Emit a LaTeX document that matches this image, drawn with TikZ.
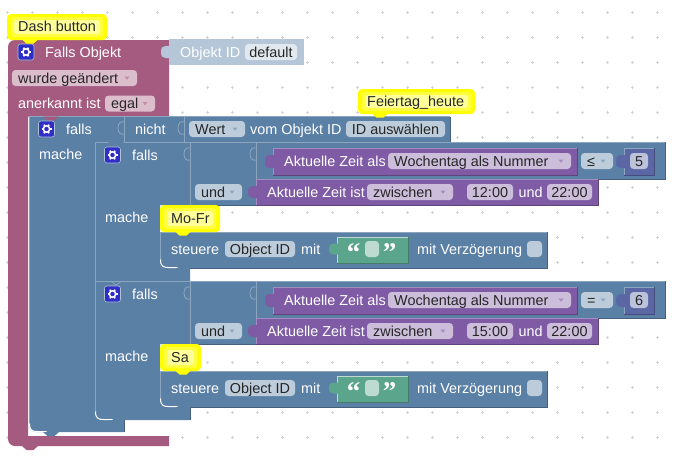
\documentclass[tikz,border=0pt]{standalone}
\usepackage{fontspec}
\setmainfont{Liberation Sans}
\newfontfamily\quotefont{Liberation Serif}
\definecolor{pinkb}{HTML}{A55B80}
\definecolor{blueb}{HTML}{5B80A5}
\definecolor{purpb}{HTML}{7F5BA5}
\definecolor{greenb}{HTML}{5BA58C}
\definecolor{numb}{HTML}{5B67A5}
\definecolor{paleb}{HTML}{B4C6D8}
\definecolor{pinkf}{HTML}{DBBDCC}
\definecolor{bluef}{HTML}{BDCCDB}
\definecolor{purpf}{HTML}{CCBDDB}
\definecolor{numf}{HTML}{BDC2DB}
\definecolor{greenf}{HTML}{BDDBD1}
\definecolor{hlb}{HTML}{8CA6C0}
\definecolor{hlp}{HTML}{A58CC0}
\definecolor{gridc}{HTML}{D4D4D4}
\definecolor{combo}{HTML}{FFFF00}
\definecolor{commid}{HTML}{FFFF40}
\definecolor{comin}{HTML}{FFFF99}
\definecolor{gearb}{HTML}{2F2FC8}
\newcommand{\fsz}{\fontsize{14.4}{16}\selectfont}
\tikzset{
  white text/.style={text=white,font=\fsz,inner sep=0pt,anchor=west,text height=12pt,text depth=1.5pt},
  dark text/.style={text=black!85,font=\fsz,inner sep=0pt,text height=12pt,text depth=1.5pt},
  edge/.style={draw=#1,line width=.7pt},
  fieldbox/.style={rounded corners=3.5pt,fill=#1},
  comout/.style={fill=combo,rounded corners=4pt},
  commid/.style={fill=commid,rounded corners=3pt},
  comin/.style={fill=comin,rounded corners=3pt},
  gridmark/.style={draw=gridc,line width=.5pt},
  tabline/.style={draw=#1,line width=.8pt,fill=none},
  quotemark/.style={text=white,inner sep=0pt,anchor=north,font=\quotefont\bfseries\fontsize{27}{27}\selectfont},
}
\newcommand{\rblock}[6]{%
  \fill[#5] (#1,#2) rectangle (#3,#4);
  \draw[edge=#6] (#1,#4) -- (#1,#2) -- (#3,#2);
  \draw[edge=#5!75!black] (#1,#4) -- (#3,#4) -- (#3,#2);
}
% puzzle tab: x of block edge, top y, height, colour
\newcommand{\ptab}[4]{%
  \fill[#4] (#1+1,#2) -- (#1-3,#2) .. controls (#1-6,#2) and (#1-8,#2+1) .. (#1-8,#2+#3/2)
     .. controls (#1-8,#2+#3-1) and (#1-6,#2+#3) .. (#1-3,#2+#3) -- (#1+1,#2+#3) -- cycle;
}
\newcommand{\psock}[3]{%
  \draw[tabline=#3] (#1,#2) .. controls (#1-3,#2-1) and (#1-6,#2+1) .. (#1-6,#2+6)
     .. controls (#1-6,#2+11) and (#1-3,#2+13) .. (#1,#2+12);
}
\newcommand{\pbump}[3]{%
  \fill[#3] (#1-8,#2) -- (#1-3.5,#2+4) -- (#1+3.5,#2+4) -- (#1+8,#2) -- cycle;
}
\newcommand{\fld}[7]{%
  \node[fieldbox=#6,minimum width=#3pt-#2pt,minimum height=16pt,dark text] (#1) at ({(#2+#3)/2},#4) {#7};
}
\newcommand{\ddn}[8]{%
  \path[fieldbox=#6] (#2,#4-8) rectangle (#3,#4+8);
  \node[dark text,anchor=west] (#1) at (#2+6,#4) {#7};
  \fill[#8] (#3-12.5,#4-1.5) -- (#3-7.5,#4-1.5) -- (#3-10,#4+1.8) -- cycle;
}
\newcommand{\gearic}[2]{%
  \fill[gearb,draw=hlb!70!white,line width=.6pt,rounded corners=2.5pt] (#1,#2) rectangle ++(16,16);
  \begin{scope}[shift={(#1+8,#2+8)}]
    \foreach \a in {0,60,...,300}{\draw[white,line width=1.7pt] (\a:2.5) -- (\a:5);}
    \draw[white,line width=1.5pt] (0,0) circle (3.2);
  \end{scope}
}
\newcommand{\ccorner}[2]{%
  \draw[white,line width=1pt] (#1,#2-8) .. controls (#1,#2-1) and (#1+3,#2) .. (#1+8,#2) -- (#1+17,#2);
}
% comment balloon: left, top, right, bottom
\newcommand{\cballoon}[5]{%
  \path[comout] (#1,#2) rectangle (#3,#4);
  \path[commid] (#1+4,#2+3) rectangle (#3-4,#4-3);
  \path[comin] (#1+7,#2+6) rectangle (#3-7,#4-6);
  \pbump{#5}{#4-.5}{combo}
}
\begin{document}
\begin{tikzpicture}[x=1pt,y=-1pt]
\fill[white] (0,0) rectangle (678,461);
\useasboundingbox (0,0) rectangle (678,461);
% grid
\foreach \i in {0,...,26}{\foreach \j in {0,...,17}{
  \pgfmathsetmacro{\gx}{7.3+25*\i}\pgfmathsetmacro{\gy}{12.5+25*\j}
  \draw[gridmark] (\gx-1.5,\gy) -- (\gx+1.5,\gy) (\gx,\gy-1.5) -- (\gx,\gy+1.5);
}}
% pink trigger block
\fill[pinkb] (169,40) -- (169,116.5) -- (28,116.5) -- (28,436) -- (169,436) -- (169,446) [rounded corners=7pt] -- (8,446) -- (8,40) [sharp corners] -- cycle;
\pbump{30}{446}{pinkb}
% Objekt ID block
\fill[paleb] (169,39) rectangle (304,64.5);
\ptab{169}{46}{12}{paleb}
\node[white text] (objid) at (180,52) {Objekt ID};
\fld{deflt}{245}{297}{52}{}{bluef!45!white}{default}
\gearic{18}{44}
\node[white text] (fallsobj) at (45,52) {Falls Objekt};
\ddn{geaend}{12}{137}{78}{}{pinkf}{wurde geändert}{pinkb!70!white}
\node[white text] (anerk) at (18,103) {anerkannt ist};
\ddn{egal}{105}{155}{103.5}{}{pinkf}{egal}{pinkb!70!white}
% outer falls
\fill[blueb] (29,116.5) -- (124,116.5) -- (124,142) -- (95,142) -- (95,420) -- (124,420) -- (124,432) [rounded corners=7pt] -- (29,432) [sharp corners] -- (29,116.5) -- cycle;
\draw[edge=hlb] (29,424) -- (29,116.5) -- (124,116.5);
\ccorner{29.5}{431.5}
\pbump{51}{432}{blueb}
\pbump{51}{116.5}{pinkb}
% nicht and Wert blocks
\rblock{124}{116.5}{184}{142}{blueb}{hlb}
\rblock{184}{116.5}{450}{142}{blueb}{hlb}
\psock{124}{122}{hlb}
\psock{184}{122}{hlb}
\gearic{38.5}{121}
\node[white text] (f0) at (66,129) {falls};
\node[white text] (nicht) at (135,129) {nicht};
\ddn{wert}{189}{245}{129}{}{bluef}{Wert}{blueb!70!white}
\node[white text] (vom) at (250,129) {vom Objekt ID};
\fld{idausw}{346}{445}{129}{}{bluef}{ID auswählen}
\node[white text] (mache0) at (39,154) {mache};

% first inner falls
\fill[blueb] (95,142) -- (190,142) -- (190,205) -- (160,205) -- (160,268) -- (190,268) -- (190,281) -- (95,281) -- cycle;
\draw[edge=hlb] (95,281) -- (95,142) -- (190,142);
\pbump{116}{142}{blueb}
% second inner falls
\fill[blueb] (95,281) -- (190,281) -- (190,344) -- (160,344) -- (160,407) -- (190,407) -- (190,420) -- (95,420) -- cycle;
\draw[edge=hlb] (95,412) -- (95,281) -- (190,281);
\ccorner{95.5}{419.5}
\pbump{116}{420}{blueb}
\draw[edge=hlb] (111,281) -- (116,285) -- (122,281);
\draw[edge=blueb!75!black] (124,432) -- (124,420);
\draw[edge=blueb!75!black] (190,420) -- (190,407);

\foreach \dy/\tnam/\op/\num/\tfrom/\cm/\cmw in {0/a/{≤}/5/{12:00}/{Mo-Fr}/220,139/b/{=}/6/{15:00}/{Sa}/201}{
  \rblock{190}{142+\dy}{256}{205+\dy}{blueb}{hlb}
  \psock{190}{148+\dy}{hlb}
  \psock{256}{148+\dy}{hlb}
  \rblock{256}{142+\dy}{665}{179+\dy}{blueb}{hlb}
  \rblock{273}{148+\dy}{577}{175+\dy}{purpb}{hlp}
  \ptab{273}{155+\dy}{13}{purpb}
  \node[white text] (zeitals\tnam) at (284,161+\dy) {Aktuelle Zeit als};
  \ddn{wt\tnam}{388}{571}{161+\dy}{}{purpf}{Wochentag als Nummer}{purpb!70!white}
  \ddn{op\tnam}{581}{613}{161+\dy}{}{bluef}{\op}{blueb!70!white}
  \rblock{624}{148+\dy}{654}{175+\dy}{numb}{hlb}
  \ptab{624}{155+\dy}{13}{numb}
  \fld{num\tnam}{630}{648}{161+\dy}{}{numf}{\num}
  \rblock{256}{179+\dy}{598}{205+\dy}{purpb}{hlp}
  \ptab{256}{186+\dy}{12}{purpb}
  \ddn{und\tnam}{195}{242}{192+\dy}{}{bluef}{und}{blueb!70!white}
  \node[white text] (zeitist\tnam) at (267,192+\dy) {Aktuelle Zeit ist};
  \ddn{zw\tnam}{367}{453}{192+\dy}{}{purpf}{zwischen}{purpb!70!white}
  \fld{von\tnam}{467}{513}{192+\dy}{}{purpf}{\tfrom}
  \node[white text] (u\tnam) at (518.5,192+\dy) {und};
  \fld{bis\tnam}{547}{592}{192+\dy}{}{purpf}{22:00}
  \gearic{104.5}{147+\dy}
  \node[white text] (f\tnam) at (132,155+\dy) {falls};
  \node[white text] (mache\tnam) at (105,217+\dy) {mache};
  % steuere block
  \fill[blueb] (160,232+\dy) -- (547,232+\dy) -- (547,268+\dy) -- (160,268+\dy) -- cycle;
  \draw[edge=hlb] (160,260+\dy) -- (160,232+\dy) -- (547,232+\dy);
  \draw[edge=blueb!75!black] (178,268+\dy) -- (547,268+\dy) -- (547,232+\dy);
  \ccorner{160.5}{267.5+\dy}
  \pbump{183}{268+\dy}{blueb}
  \node[white text] (st\tnam) at (171,249+\dy) {steuere};
  \fld{oid\tnam}{225}{295}{249+\dy}{}{bluef}{Object ID}
  \node[white text] (mit\tnam) at (301,249+\dy) {mit};
  \rblock{337}{237+\dy}{408}{263+\dy}{greenb}{greenf}
  \ptab{337}{243.5+\dy}{11}{greenb}
  \node[quotemark] (lq\tnam) at (353.5,243.5+\dy) {“};
  \node[quotemark] (rq\tnam) at (389.5,243.5+\dy) {”};
  \fld{txt\tnam}{365}{379}{249+\dy}{}{greenf}{}
  \node[white text] (vz\tnam) at (417,249+\dy) {mit Verzögerung};
  \fld{del\tnam}{527}{542}{249+\dy}{}{bluef}{}
  % comment
  \cballoon{160}{205+\dy}{\cmw}{232+\dy}{183}
  \node[dark text,anchor=west] (cm\tnam) at (171,218+\dy) {\cm};
}
% Dash button comment
\cballoon{7}{14}{107}{40}{30}
\node[dark text,anchor=west] (dash) at (18,26) {Dash button};
% Feiertag comment
\cballoon{358}{89}{475}{114}{380}
\node[dark text,anchor=west] (feier) at (367,101) {Feiertag\_heute};
\end{tikzpicture}
\end{document}
